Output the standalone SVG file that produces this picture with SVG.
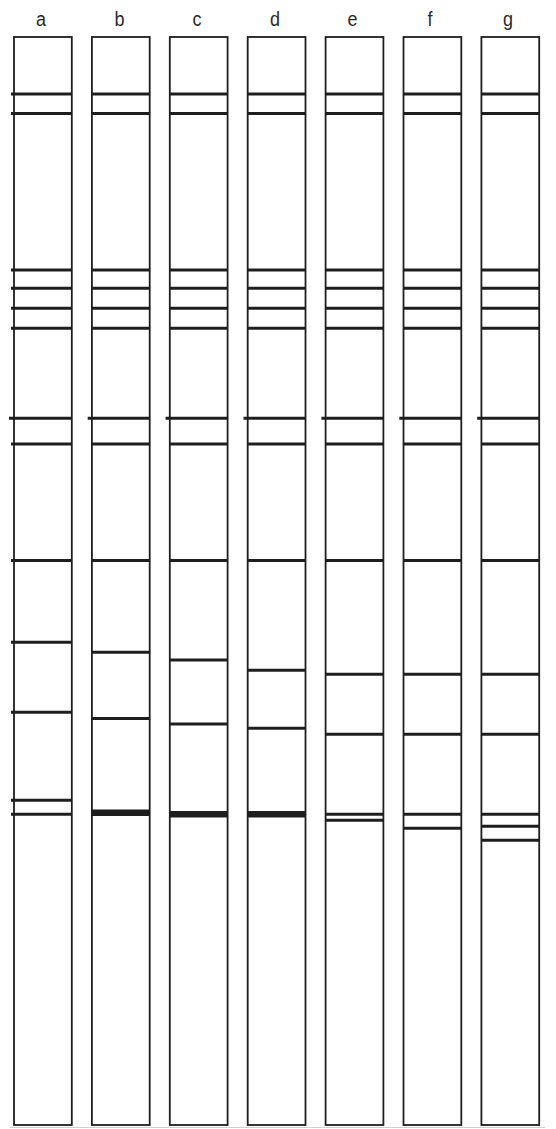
<svg xmlns="http://www.w3.org/2000/svg" width="556" height="1129" viewBox="0 0 556 1129">
<style>
.lane{fill:#fff;stroke:#1e1e1e;stroke-width:1.8}
.band{stroke:#1e1e1e;stroke-width:3}
.thick{stroke:#1e1e1e;stroke-width:6.5}
.lbl{font-family:"Liberation Sans",Arial,sans-serif;font-size:18px;fill:#2a2a2a;text-anchor:middle}
</style>
<rect width="556" height="1129" fill="#fff"/>
<line x1="10" y1="1127.5" x2="545" y2="1127.5" stroke="#d0d0d0" stroke-width="1"/>
<g id="lane-a">
<text class="lbl" transform="translate(41,26) scale(1,1.12)">a</text>
<rect class="lane" x="14" y="37" width="57.8" height="1088"/>
<g class="bands">
<line class="band" x1="11" y1="94" x2="71.8" y2="94"/>
<line class="band" x1="11" y1="113.5" x2="71.8" y2="113.5"/>
<line class="band" x1="11" y1="270" x2="71.8" y2="270"/>
<line class="band" x1="11" y1="288.3" x2="71.8" y2="288.3"/>
<line class="band" x1="11" y1="308.3" x2="71.8" y2="308.3"/>
<line class="band" x1="11" y1="328.3" x2="71.8" y2="328.3"/>
<line class="band" x1="9" y1="418.3" x2="71.8" y2="418.3"/>
<line class="band" x1="11" y1="444" x2="71.8" y2="444"/>
<line class="band" x1="11" y1="560.5" x2="71.8" y2="560.5"/>
<line class="band" x1="11" y1="642.3" x2="71.8" y2="642.3"/>
<line class="band" x1="11" y1="712.3" x2="71.8" y2="712.3"/>
<line class="band" x1="11" y1="800.3" x2="71.8" y2="800.3"/>
<line class="band" x1="11" y1="814.3" x2="71.8" y2="814.3"/>
</g>
</g>
<g id="lane-b">
<text class="lbl" transform="translate(119.5,26) scale(1,1.12)">b</text>
<rect class="lane" x="91.9" y="37" width="57.8" height="1088"/>
<g class="bands">
<line class="band" x1="91.9" y1="94" x2="149.7" y2="94"/>
<line class="band" x1="91.9" y1="113.5" x2="149.7" y2="113.5"/>
<line class="band" x1="91.9" y1="270" x2="149.7" y2="270"/>
<line class="band" x1="91.9" y1="288.3" x2="149.7" y2="288.3"/>
<line class="band" x1="91.9" y1="308.3" x2="149.7" y2="308.3"/>
<line class="band" x1="91.9" y1="328.3" x2="149.7" y2="328.3"/>
<line class="band" x1="87.7" y1="418.3" x2="149.7" y2="418.3"/>
<line class="band" x1="91.9" y1="444" x2="149.7" y2="444"/>
<line class="band" x1="91.9" y1="560.5" x2="149.7" y2="560.5"/>
<line class="band" x1="91.9" y1="652.3" x2="149.7" y2="652.3"/>
<line class="band" x1="91.9" y1="718.5" x2="149.7" y2="718.5"/>
<line class="thick" x1="91.9" y1="812.7" x2="149.7" y2="812.7"/>
</g>
</g>
<g id="lane-c">
<text class="lbl" transform="translate(197,26) scale(1,1.12)">c</text>
<rect class="lane" x="169.8" y="37" width="57.8" height="1088"/>
<g class="bands">
<line class="band" x1="169.8" y1="94" x2="227.6" y2="94"/>
<line class="band" x1="169.8" y1="113.5" x2="227.6" y2="113.5"/>
<line class="band" x1="169.8" y1="270" x2="227.6" y2="270"/>
<line class="band" x1="169.8" y1="288.3" x2="227.6" y2="288.3"/>
<line class="band" x1="169.8" y1="308.3" x2="227.6" y2="308.3"/>
<line class="band" x1="169.8" y1="328.3" x2="227.6" y2="328.3"/>
<line class="band" x1="165.6" y1="418.3" x2="227.6" y2="418.3"/>
<line class="band" x1="169.8" y1="444" x2="227.6" y2="444"/>
<line class="band" x1="169.8" y1="560.5" x2="227.6" y2="560.5"/>
<line class="band" x1="169.8" y1="660" x2="227.6" y2="660"/>
<line class="band" x1="169.8" y1="724" x2="227.6" y2="724"/>
<line class="thick" x1="169.8" y1="814.3" x2="227.6" y2="814.3"/>
</g>
</g>
<g id="lane-d">
<text class="lbl" transform="translate(275,26) scale(1,1.12)">d</text>
<rect class="lane" x="247.7" y="37" width="57.8" height="1088"/>
<g class="bands">
<line class="band" x1="247.7" y1="94" x2="305.5" y2="94"/>
<line class="band" x1="247.7" y1="113.5" x2="305.5" y2="113.5"/>
<line class="band" x1="247.7" y1="270" x2="305.5" y2="270"/>
<line class="band" x1="247.7" y1="288.3" x2="305.5" y2="288.3"/>
<line class="band" x1="247.7" y1="308.3" x2="305.5" y2="308.3"/>
<line class="band" x1="247.7" y1="328.3" x2="305.5" y2="328.3"/>
<line class="band" x1="243.5" y1="418.3" x2="305.5" y2="418.3"/>
<line class="band" x1="247.7" y1="444" x2="305.5" y2="444"/>
<line class="band" x1="247.7" y1="560.5" x2="305.5" y2="560.5"/>
<line class="band" x1="247.7" y1="670.3" x2="305.5" y2="670.3"/>
<line class="band" x1="247.7" y1="728.3" x2="305.5" y2="728.3"/>
<line class="thick" x1="247.7" y1="814.3" x2="305.5" y2="814.3"/>
</g>
</g>
<g id="lane-e">
<text class="lbl" transform="translate(352.5,26) scale(1,1.12)">e</text>
<rect class="lane" x="325.6" y="37" width="57.8" height="1088"/>
<g class="bands">
<line class="band" x1="325.6" y1="94" x2="383.4" y2="94"/>
<line class="band" x1="325.6" y1="113.5" x2="383.4" y2="113.5"/>
<line class="band" x1="325.6" y1="270" x2="383.4" y2="270"/>
<line class="band" x1="325.6" y1="288.3" x2="383.4" y2="288.3"/>
<line class="band" x1="325.6" y1="308.3" x2="383.4" y2="308.3"/>
<line class="band" x1="325.6" y1="328.3" x2="383.4" y2="328.3"/>
<line class="band" x1="321.4" y1="418.3" x2="383.4" y2="418.3"/>
<line class="band" x1="325.6" y1="444" x2="383.4" y2="444"/>
<line class="band" x1="325.6" y1="560.5" x2="383.4" y2="560.5"/>
<line class="band" x1="325.6" y1="674.3" x2="383.4" y2="674.3"/>
<line class="band" x1="325.6" y1="734.3" x2="383.4" y2="734.3"/>
<line class="band" x1="325.6" y1="814.3" x2="383.4" y2="814.3"/>
<line class="band" x1="325.6" y1="820.3" x2="383.4" y2="820.3"/>
</g>
</g>
<g id="lane-f">
<text class="lbl" transform="translate(430,26) scale(1,1.12)">f</text>
<rect class="lane" x="403.5" y="37" width="57.8" height="1088"/>
<g class="bands">
<line class="band" x1="403.5" y1="94" x2="461.3" y2="94"/>
<line class="band" x1="403.5" y1="113.5" x2="461.3" y2="113.5"/>
<line class="band" x1="403.5" y1="270" x2="461.3" y2="270"/>
<line class="band" x1="403.5" y1="288.3" x2="461.3" y2="288.3"/>
<line class="band" x1="403.5" y1="308.3" x2="461.3" y2="308.3"/>
<line class="band" x1="403.5" y1="328.3" x2="461.3" y2="328.3"/>
<line class="band" x1="399.3" y1="418.3" x2="461.3" y2="418.3"/>
<line class="band" x1="403.5" y1="444" x2="461.3" y2="444"/>
<line class="band" x1="403.5" y1="560.5" x2="461.3" y2="560.5"/>
<line class="band" x1="403.5" y1="674.3" x2="461.3" y2="674.3"/>
<line class="band" x1="403.5" y1="734.3" x2="461.3" y2="734.3"/>
<line class="band" x1="403.5" y1="814.3" x2="461.3" y2="814.3"/>
<line class="band" x1="403.5" y1="828.3" x2="461.3" y2="828.3"/>
</g>
</g>
<g id="lane-g">
<text class="lbl" transform="translate(508,26) scale(1,1.12)">g</text>
<rect class="lane" x="481.4" y="37" width="57.8" height="1088"/>
<g class="bands">
<line class="band" x1="481.4" y1="94" x2="539.2" y2="94"/>
<line class="band" x1="481.4" y1="113.5" x2="539.2" y2="113.5"/>
<line class="band" x1="481.4" y1="270" x2="539.2" y2="270"/>
<line class="band" x1="481.4" y1="288.3" x2="539.2" y2="288.3"/>
<line class="band" x1="481.4" y1="308.3" x2="539.2" y2="308.3"/>
<line class="band" x1="481.4" y1="328.3" x2="539.2" y2="328.3"/>
<line class="band" x1="477.2" y1="418.3" x2="539.2" y2="418.3"/>
<line class="band" x1="481.4" y1="444" x2="539.2" y2="444"/>
<line class="band" x1="481.4" y1="560.5" x2="539.2" y2="560.5"/>
<line class="band" x1="481.4" y1="674.3" x2="539.2" y2="674.3"/>
<line class="band" x1="481.4" y1="734.3" x2="539.2" y2="734.3"/>
<line class="band" x1="481.4" y1="814.3" x2="539.2" y2="814.3"/>
<line class="band" x1="481.4" y1="826.3" x2="539.2" y2="826.3"/>
<line class="band" x1="481.4" y1="840.3" x2="539.2" y2="840.3"/>
</g>
</g>
</svg>
